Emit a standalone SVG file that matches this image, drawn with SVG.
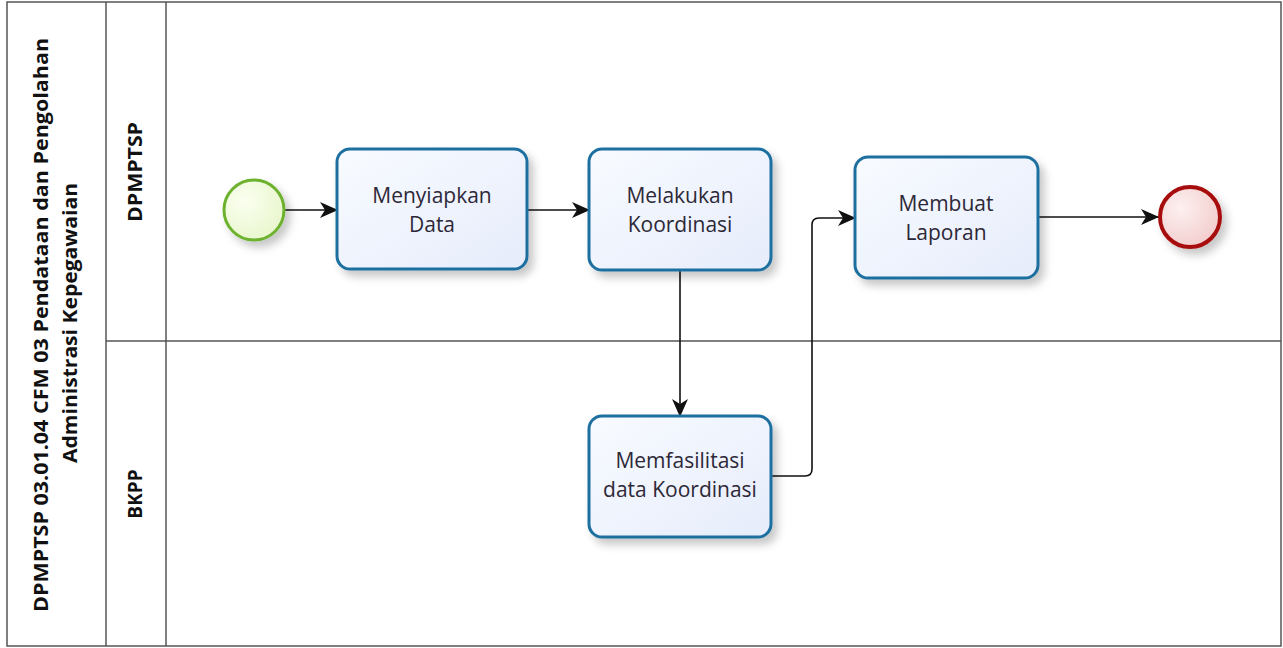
<svg xmlns="http://www.w3.org/2000/svg" width="1283" height="648" viewBox="0 0 1283 648">
<defs>
<style>
.lane{fill:#ffffff;stroke:#555;stroke-width:1.5}
.task{fill:url(#tg);stroke:#1f6fa0;stroke-width:3}
.tt{font-family:"Open Sans","Noto Sans",sans-serif;font-size:21px;fill:#2d2838;text-anchor:middle}
.hd{font-family:"Open Sans","Noto Sans",sans-serif;font-weight:bold;fill:#111;text-anchor:middle}
.cn{fill:none;stroke:#111;stroke-width:1.6}
</style>
<linearGradient id="tg" x1="0" y1="0" x2="1" y2="1">
<stop offset="0" stop-color="#f8fbff"/>
<stop offset="1" stop-color="#e6ecfb"/>
</linearGradient>
<radialGradient id="sg" cx="0.35" cy="0.35" r="0.8">
<stop offset="0" stop-color="#fbfff0"/>
<stop offset="1" stop-color="#e6f5c8"/>
</radialGradient>
<radialGradient id="eg" cx="0.35" cy="0.35" r="0.8">
<stop offset="0" stop-color="#fdf0f0"/>
<stop offset="1" stop-color="#f1c8c8"/>
</radialGradient>
<filter id="sh" x="-20%" y="-20%" width="150%" height="150%">
<feDropShadow dx="5" dy="6" stdDeviation="4" flood-color="#000" flood-opacity="0.22"/>
</filter>
<marker id="ar" viewBox="0 0 18 18" refX="17" refY="9" markerWidth="18" markerHeight="18" markerUnits="userSpaceOnUse" orient="auto">
<path d="M0,1 L18,9 L0,17 L5,9 Z" fill="#111"/>
</marker>
</defs>
<g id="pool">
<rect x="7" y="2" width="1274" height="644" class="lane"/>
<line x1="106" y1="2" x2="106" y2="646" stroke="#555" stroke-width="1.5"/>
<line x1="166" y1="2" x2="166" y2="646" stroke="#555" stroke-width="1.5"/>
<line x1="106" y1="341" x2="1281" y2="341" stroke="#555" stroke-width="1.5"/>
<text class="hd" font-size="20" textLength="574" lengthAdjust="spacingAndGlyphs" transform="translate(48,325) rotate(-90)">DPMPTSP 03.01.04 CFM 03 Pendataan dan Pengolahan</text>
<text class="hd" font-size="20" textLength="280" lengthAdjust="spacingAndGlyphs" transform="translate(77,323) rotate(-90)">Administrasi Kepegawaian</text>
</g>
<g id="lane-dpmptsp">
<text class="hd" font-size="19" textLength="100" lengthAdjust="spacingAndGlyphs" transform="translate(142,172) rotate(-90)">DPMPTSP</text>
</g>
<g id="lane-bkpp">
<text class="hd" font-size="19" transform="translate(142,494) rotate(-90)">BKPP</text>
</g>
<g id="connectors">
<path class="cn" d="M285,210 L337,210" marker-end="url(#ar)"/>
<path class="cn" d="M527,210 L589,210" marker-end="url(#ar)"/>
<path class="cn" d="M680,270 L680,416" marker-end="url(#ar)"/>
<path class="cn" d="M771,476 L805,476 Q812,476 812,469 L812,225 Q812,218 819,218 L855,218" marker-end="url(#ar)"/>
<path class="cn" d="M1038,217 L1158,217" marker-end="url(#ar)"/>
</g>
<g id="start">
<circle cx="254" cy="210" r="30" fill="url(#sg)" stroke="#6db22f" stroke-width="3" filter="url(#sh)"/>
</g>
<g id="t1">
<rect x="337" y="149" width="190" height="120" rx="13" class="task" filter="url(#sh)"/>
<text class="tt" x="432" y="203">Menyiapkan</text>
<text class="tt" x="432" y="232">Data</text>
</g>
<g id="t2">
<rect x="589" y="149" width="182" height="121" rx="13" class="task" filter="url(#sh)"/>
<text class="tt" x="680" y="203">Melakukan</text>
<text class="tt" x="680" y="232">Koordinasi</text>
</g>
<g id="t3">
<rect x="855" y="157" width="183" height="121" rx="13" class="task" filter="url(#sh)"/>
<text class="tt" x="946" y="211">Membuat</text>
<text class="tt" x="946" y="240">Laporan</text>
</g>
<g id="t4">
<rect x="589" y="416" width="182" height="121" rx="13" class="task" filter="url(#sh)"/>
<text class="tt" x="680" y="468">Memfasilitasi</text>
<text class="tt" x="680" y="497">data Koordinasi</text>
</g>
<g id="end">
<circle cx="1190" cy="217" r="30" fill="url(#eg)" stroke="#a80f0f" stroke-width="4" filter="url(#sh)"/>
</g>
</svg>
